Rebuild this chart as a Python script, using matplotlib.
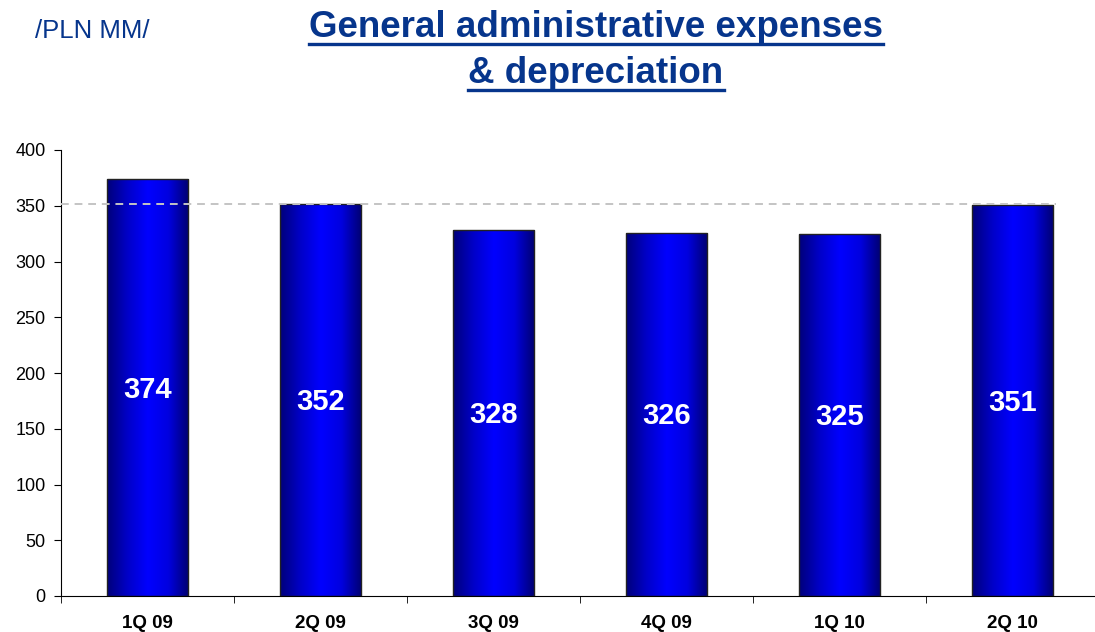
import matplotlib
matplotlib.use("Agg")
import matplotlib.pyplot as plt
import numpy as np
from matplotlib.colors import LinearSegmentedColormap
from matplotlib.patches import Rectangle

plt.rcParams['font.family'] = ['Liberation Sans', 'DejaVu Sans']

quarters = ["1Q 09", "2Q 09", "3Q 09", "4Q 09", "1Q 10", "2Q 10"]
expenses = [374, 352, 328, 326, 325, 351]
ref_level = 352

navy = "#06358C"
bar_cmap = LinearSegmentedColormap.from_list(
    "barblue", ["#00007A", "#0000C8", "#0000FF", "#0000E0", "#000070"])

fig = plt.figure(figsize=(10.95, 6.32), dpi=100)
ax = fig.add_axes([61 / 1095, 36 / 632, 1038 / 1095, 446 / 632])

x = np.arange(len(quarters))
width = 0.47
bars = ax.bar(x, expenses, width, color="none", edgecolor="#222222", linewidth=1.0, zorder=3)

grad = np.linspace(0, 1, 256).reshape(1, -1)
for rect, v in zip(bars, expenses):
    x0 = rect.get_x()
    im = ax.imshow(grad, cmap=bar_cmap, aspect="auto", zorder=2,
                   extent=(x0, x0 + rect.get_width(), 0, v), interpolation="bicubic")
    clip = Rectangle((x0, 0), rect.get_width(), v, transform=ax.transData)
    im.set_clip_path(clip)
    ax.text(rect.get_x() + rect.get_width() / 2, v / 2 - 2, str(v), ha="center", va="center",
            color="white", fontsize=21, fontweight="bold", zorder=5)

ax.plot([-0.5, 5.25], [ref_level, ref_level], color="#C4C4C4", linestyle=(0, (4, 3)),
        linewidth=1.4, zorder=4)

ax.set_xlim(-0.5, 5.5)
ax.set_ylim(0, 400)
ax.set_yticks(range(0, 401, 50))
ax.set_xticks(x)
ax.set_xticklabels(quarters, fontweight="bold", fontsize=13.5)
ax.set_xticks(np.arange(-0.5, 6, 1), minor=True)
ax.tick_params(axis="x", which="major", length=0, pad=14)
ax.tick_params(axis="x", which="minor", length=5, direction="out")
ax.tick_params(axis="y", labelsize=13, length=5, direction="out", pad=6)
for s in ["top", "right"]:
    ax.spines[s].set_visible(False)

fig.text(35 / 1095, 1 - 38 / 632, "/PLN MM/", color=navy, fontsize=18.5, va="baseline", ha="left")
t1 = fig.text(596 / 1095, 1 - 37 / 632, "General administrative expenses", color=navy,
              fontsize=26.5, fontweight="bold", ha="center", va="baseline")
t2 = fig.text(596 / 1095, 1 - 83 / 632, "& depreciation", color=navy,
              fontsize=26.5, fontweight="bold", ha="center", va="baseline")

fig.canvas.draw()
r = fig.canvas.get_renderer()
H = fig.bbox.height
W = fig.bbox.width
for t, base in ((t1, 37), (t2, 83)):
    bb = t.get_window_extent(r)
    y = 1 - (base + 7) / H
    fig.add_artist(plt.Line2D([bb.x0 / W, bb.x1 / W], [y, y],
                              transform=fig.transFigure, color=navy, linewidth=2.4))

fig.savefig("out.png", dpi=100)
